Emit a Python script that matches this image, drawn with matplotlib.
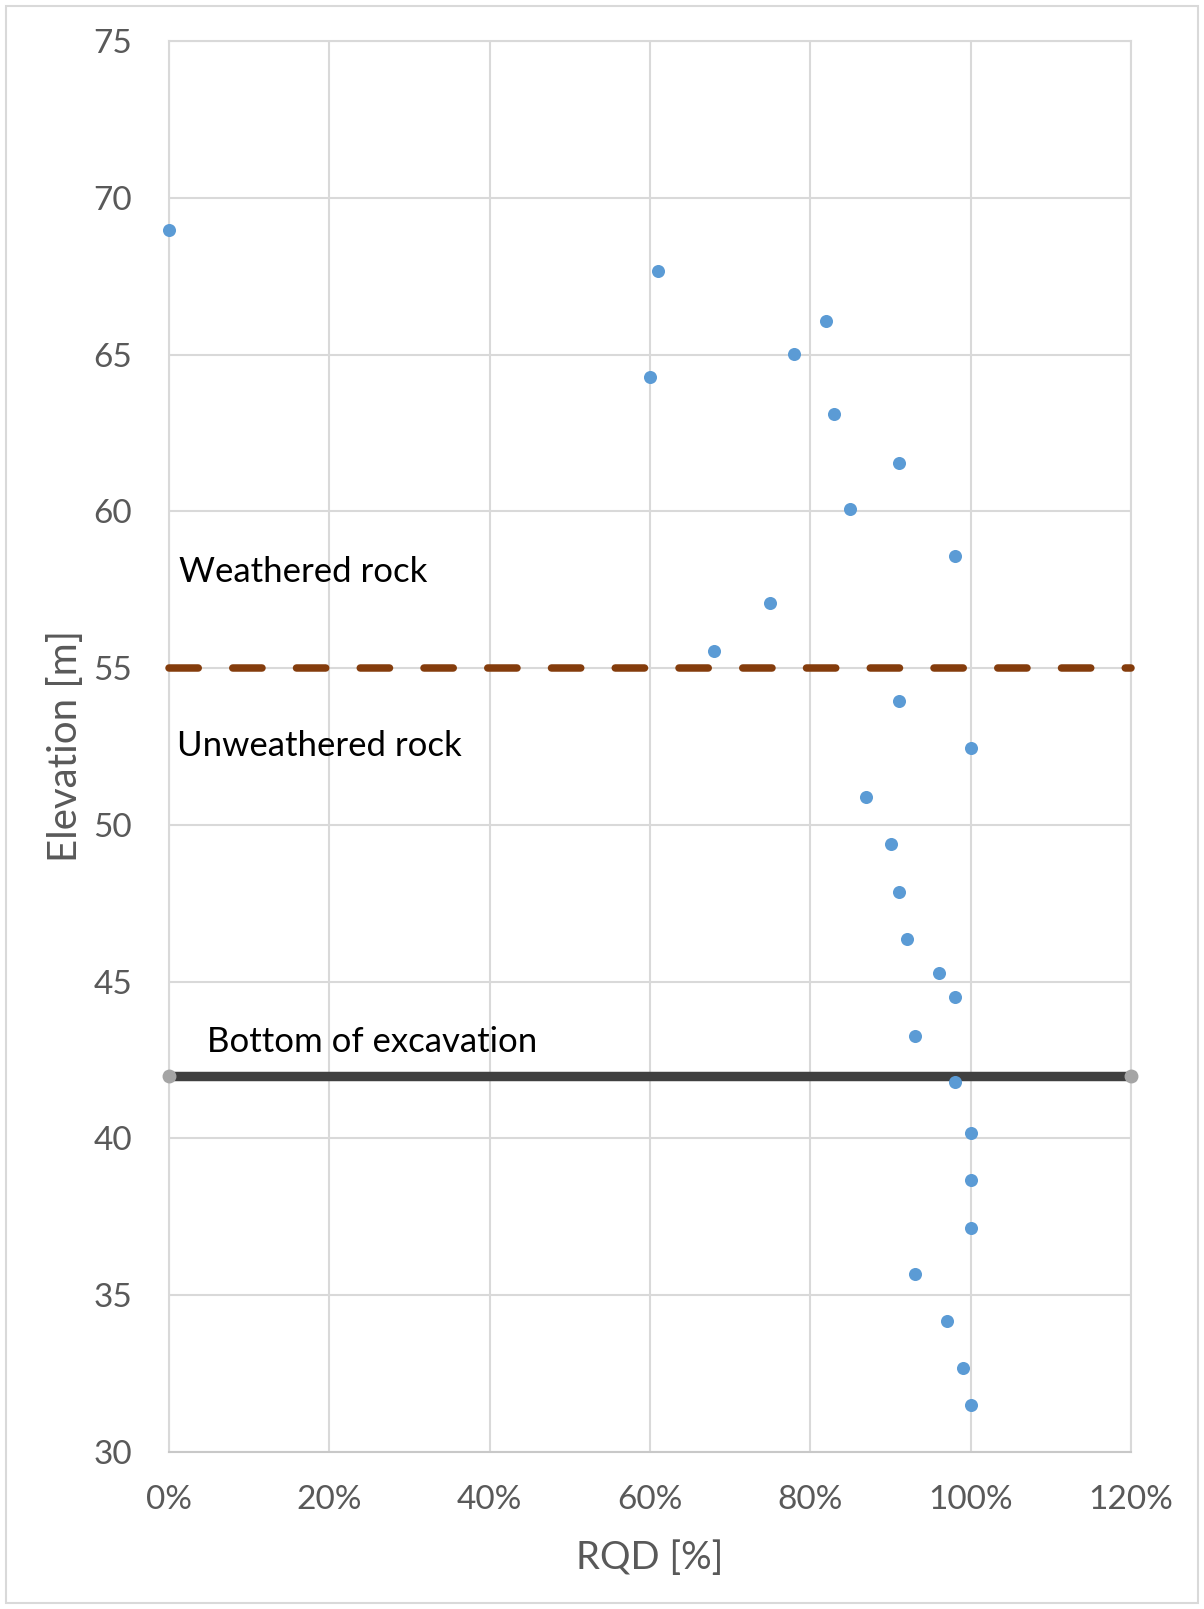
import matplotlib
matplotlib.use("Agg")
import matplotlib.pyplot as plt
from matplotlib.patches import Rectangle
from matplotlib.ticker import FuncFormatter

# RQD measurements along the borehole
rqd = [0.00, 0.61, 0.60, 0.82, 0.78, 0.83, 0.91, 0.85, 0.98, 0.75, 0.68,
       0.91, 1.00, 0.87, 0.90, 0.91, 0.92, 0.96, 0.98, 0.93, 0.98,
       1.00, 1.00, 1.00, 0.93, 0.97, 0.99, 1.00]
elevation = [68.98, 67.67, 64.30, 66.07, 65.02, 63.09, 61.55, 60.08, 58.57,
             57.07, 55.53, 53.96, 52.45, 50.88, 49.38, 47.87, 46.37, 45.29,
             44.50, 43.26, 41.79, 40.18, 38.68, 37.14, 35.67, 34.19, 32.69,
             31.51]

# Reference levels
weathering_boundary = 55
excavation_bottom = 42
line_extent = [0.0, 1.2]

x_ticks = [0.0, 0.2, 0.4, 0.6, 0.8, 1.0, 1.2]
y_ticks = [30, 35, 40, 45, 50, 55, 60, 65, 70, 75]

W, H = 1204, 1609
fig = plt.figure(figsize=(W / 100, H / 100), dpi=100)
plt.rcParams["font.family"] = ["Lato", "DejaVu Sans"]

ax = fig.add_axes([169 / W, 1 - 1452 / H, (1131 - 169) / W, (1452 - 41) / H])

grid_c = "#D9D9D9"
ax.set_xlim(0, 1.2)
ax.set_ylim(30, 75)
ax.set_xticks(x_ticks)
ax.set_yticks(y_ticks)
ax.xaxis.set_major_formatter(FuncFormatter(lambda v, p: f"{v * 100:.0f}%"))
ax.grid(True, color=grid_c, linewidth=1.5, zorder=0)
ax.set_axisbelow(True)
for s in ax.spines.values():
    s.set_color(grid_c)
    s.set_linewidth(1.5)
ax.spines["bottom"].set_color("#C8C8C8")
ax.tick_params(length=0, labelsize=24, labelcolor="#595959")
ax.tick_params(axis="x", pad=24)
ax.tick_params(axis="y", pad=26.5)

# Weathered / unweathered boundary
ax.plot(line_extent, [weathering_boundary] * 2, color="#843C0C", linewidth=5.4,
        dashes=(3.9, 4.6), solid_capstyle="round", dash_capstyle="round",
        zorder=3, clip_on=False)

# Bottom of excavation
ax.plot(line_extent, [excavation_bottom] * 2, color="#404040", linewidth=6.8,
        zorder=3, clip_on=False)
ax.plot(line_extent, [excavation_bottom] * 2, linestyle="none", marker="o",
        markersize=9, color="#A5A5A5", zorder=4, clip_on=False)

# RQD points
ax.plot(rqd, elevation, linestyle="none", marker="o", markersize=9.4,
        color="#5B9BD5", markeredgewidth=0, zorder=5, clip_on=False)

ax.text(0.012, 58.07, "Weathered rock", fontsize=25, color="black",
        va="center", ha="left")
ax.text(0.010, 52.5, "Unweathered rock", fontsize=25, color="black",
        va="center", ha="left")
ax.text(0.047, 43.08, "Bottom of excavation", fontsize=25, color="black",
        va="center", ha="left")

ax.set_xlabel("RQD [%]", fontsize=27.5, color="#595959", labelpad=18)
ax.set_ylabel("Elevation [m]", fontsize=29, color="#595959")
ax.yaxis.set_label_coords(-0.088, 0.5)

# Chart frame
fig.patches.append(Rectangle((6 / W, 6 / H), (1198 - 6) / W, (1603 - 6) / H,
                             transform=fig.transFigure, fill=False,
                             edgecolor=grid_c, linewidth=1.5))

fig.savefig("out.png", dpi=100)
